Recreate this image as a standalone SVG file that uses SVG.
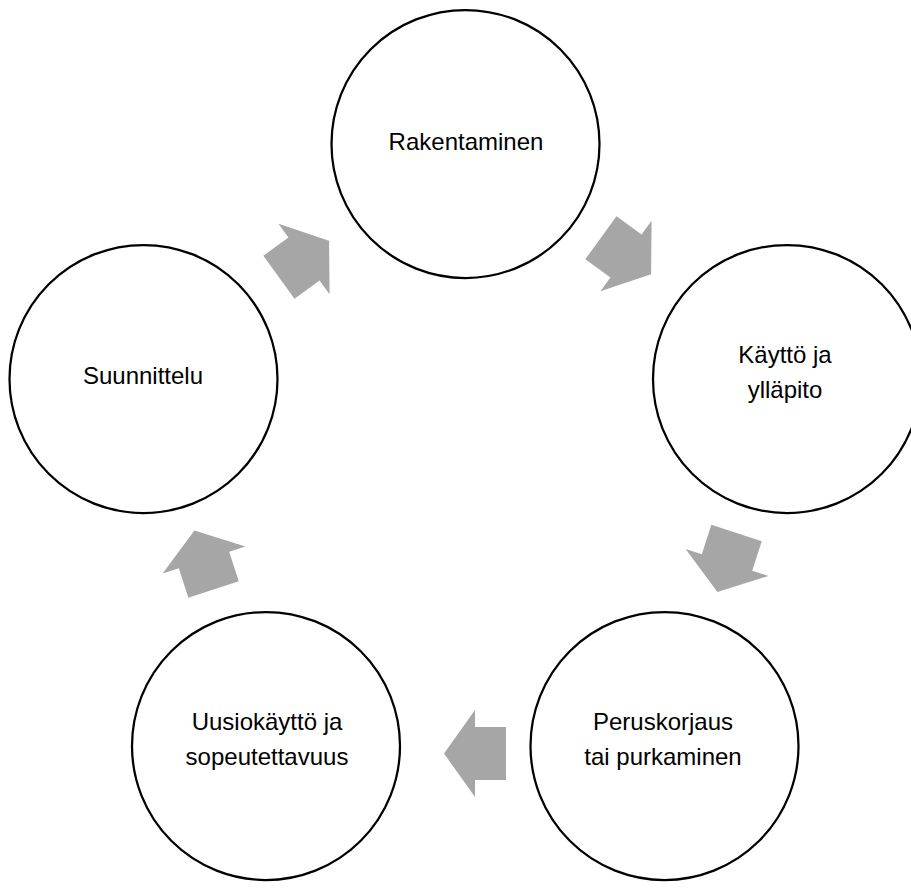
<svg xmlns="http://www.w3.org/2000/svg" width="911" height="892" viewBox="0 0 911 892">
<style>
.node circle{fill:#fff;stroke:#000;stroke-width:2.25}
.node text{font-family:"Liberation Sans",Arial,sans-serif;font-size:24px;fill:#000;text-anchor:middle}
.arrow{fill:#A6A6A6}
</style>
<defs>
<path id="arr" d="M-31,-26.5 L0,-26.5 L0,-43.5 L31,0 L0,43.5 L0,26.5 L-31,26.5 Z"/>
</defs>
<rect width="911" height="892" fill="#fff"/>
<g id="connectors" class="arrow">
<use href="#arr" transform="translate(304,259) rotate(-36)"/>
<use href="#arr" transform="translate(626,256) rotate(36)"/>
<use href="#arr" transform="translate(727,562.5) rotate(108)"/>
<use href="#arr" transform="translate(475,753.5) rotate(180)"/>
<use href="#arr" transform="translate(204,560) rotate(252)"/>
</g>
<g id="rakentaminen" class="node">
<circle cx="465.5" cy="144" r="134"/>
<text x="466" y="149.5">Rakentaminen</text>
</g>
<g id="kaytto" class="node">
<circle cx="787" cy="379" r="134"/>
<text x="785" y="363">Käyttö ja</text>
<text x="785" y="398">ylläpito</text>
</g>
<g id="peruskorjaus" class="node">
<circle cx="664.5" cy="746" r="134"/>
<text x="663" y="730">Peruskorjaus</text>
<text x="663" y="765">tai purkaminen</text>
</g>
<g id="uusiokaytto" class="node">
<circle cx="266" cy="746" r="134"/>
<text x="267" y="730">Uusiokäyttö ja</text>
<text x="267" y="765">sopeutettavuus</text>
</g>
<g id="suunnittelu" class="node">
<circle cx="143.5" cy="379" r="134"/>
<text x="143" y="384">Suunnittelu</text>
</g>
</svg>
